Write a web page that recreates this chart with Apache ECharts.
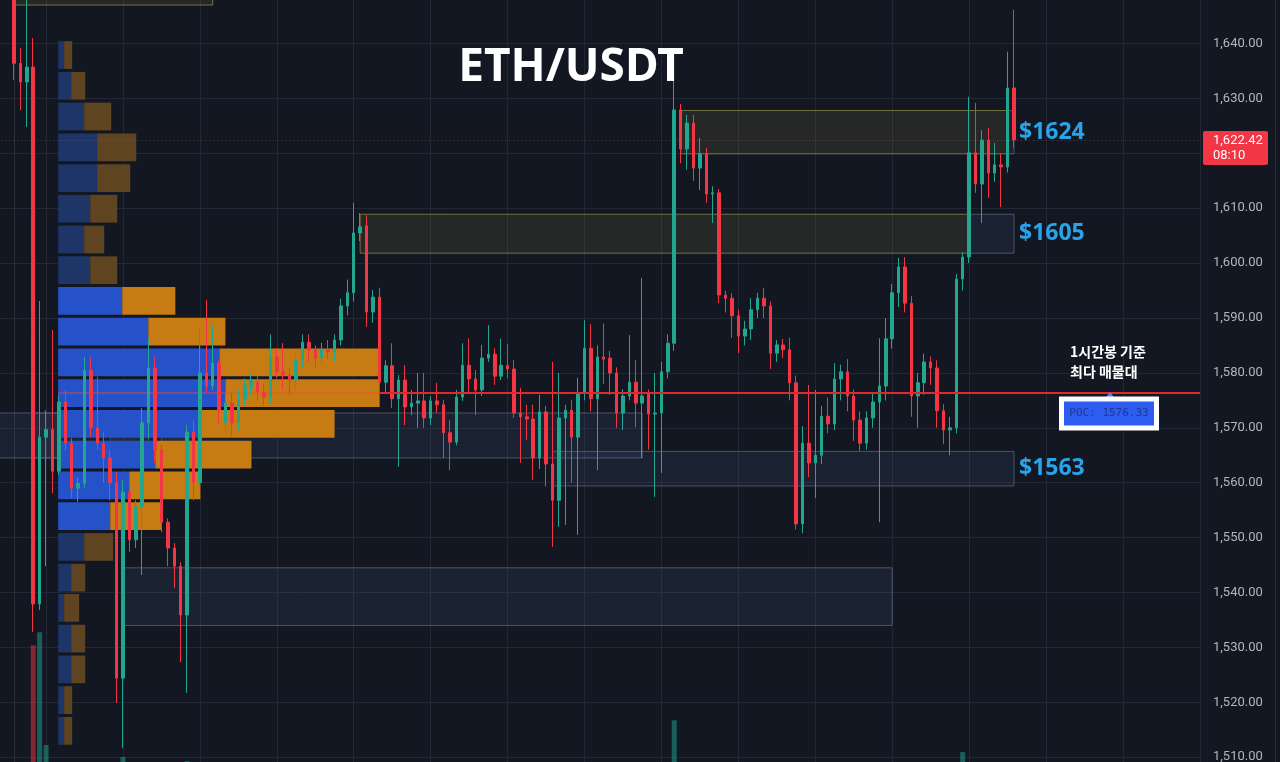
<!DOCTYPE html>
<html>
<head>
<meta charset="utf-8">
<title>ETH/USDT</title>
<script src="https://cdn.jsdelivr.net/npm/echarts/dist/echarts.min.js"></script>
<style>
  html, body { margin: 0; padding: 0; background: #131722; }
  #chart { width: 1280px; height: 762px; }
</style>
</head>
<body>
<div id="chart"></div>
<script>
// 1h candles (index = candle number from the left edge)
const opens = [
  1650.0, 1636.4, 1633.0, 1635.7, 1537.9, 1568.3, 1569.7, 1562.1, 1574.7, 1567.2,
  1559.0, 1559.9, 1580.5, 1570.0, 1567.2, 1564.5, 1560.0, 1524.4, 1558.3, 1549.6,
  1555.6, 1570.9, 1580.9, 1566.0, 1552.8, 1548.1, 1544.8, 1535.9, 1569.2, 1560.0,
  1580.0, 1577.6, 1581.8, 1570.9, 1574.5, 1570.9, 1575.1, 1577.4, 1578.3, 1576.5,
  1575.6, 1582.9, 1580.2, 1579.6, 1578.7, 1582.3, 1585.6, 1584.2, 1582.7, 1584.2,
  1583.8, 1586.0, 1592.2, 1594.6, 1605.5, 1606.8, 1591.1, 1593.8, 1578.3, 1581.3,
  1575.3, 1578.7, 1573.8, 1574.5, 1574.9, 1571.8, 1574.9, 1574.2, 1569.1, 1567.4,
  1575.6, 1581.4, 1578.9, 1576.9, 1582.7, 1583.4, 1579.4, 1581.3, 1580.7, 1572.7,
  1572.0, 1571.6, 1564.5, 1572.9, 1563.4, 1556.8, 1571.8, 1573.2, 1568.3, 1576.3,
  1584.5, 1575.3, 1582.9, 1582.7, 1580.0, 1572.7, 1575.8, 1578.3, 1574.5, 1576.3,
  1572.5, 1572.7, 1580.2, 1585.4, 1627.9, 1620.8, 1625.5, 1617.3, 1619.9, 1612.6,
  1612.8, 1594.2, 1593.6, 1590.4, 1586.7, 1588.0, 1591.5, 1593.6, 1592.2, 1583.6,
  1585.1, 1584.2, 1578.2, 1552.5, 1567.2, 1563.6, 1565.0, 1572.1, 1570.7, 1578.9,
  1580.2, 1575.8, 1571.4, 1567.2, 1571.8, 1574.7, 1577.6, 1586.2, 1594.6, 1599.3,
  1592.7, 1575.8, 1578.2, 1582.0, 1580.9, 1573.1, 1569.6, 1570.0, 1597.1, 1601.1,
  1620.1, 1614.4, 1622.4, 1616.4, 1617.9, 1617.5, 1631.9
];
const closes = [
  1636.4, 1633.0, 1635.7, 1537.9, 1568.3, 1569.7, 1562.1, 1574.7, 1567.2, 1559.0,
  1559.9, 1580.5, 1570.0, 1567.2, 1564.5, 1560.0, 1524.4, 1558.3, 1549.6, 1555.6,
  1570.9, 1580.9, 1566.0, 1552.8, 1548.1, 1544.8, 1535.9, 1569.2, 1560.0, 1580.0,
  1577.6, 1581.8, 1573.2, 1574.5, 1570.9, 1575.1, 1577.8, 1578.7, 1576.5, 1575.6,
  1582.9, 1580.2, 1579.6, 1578.7, 1582.3, 1585.6, 1584.2, 1582.7, 1584.2, 1583.8,
  1586.0, 1592.2, 1594.6, 1605.5, 1606.6, 1591.1, 1593.8, 1578.3, 1581.3, 1575.3,
  1578.7, 1573.8, 1574.5, 1574.9, 1571.8, 1574.9, 1574.2, 1569.1, 1567.4, 1575.6,
  1581.4, 1578.9, 1576.9, 1582.7, 1583.4, 1579.4, 1581.4, 1580.7, 1572.7, 1572.0,
  1571.6, 1564.5, 1572.9, 1563.4, 1556.8, 1571.8, 1573.2, 1568.3, 1576.3, 1584.5,
  1575.3, 1582.9, 1582.5, 1580.0, 1572.7, 1575.8, 1578.3, 1574.5, 1575.8, 1572.5,
  1572.7, 1580.2, 1585.4, 1627.9, 1620.8, 1625.5, 1617.3, 1619.9, 1612.6, 1612.8,
  1594.2, 1593.6, 1590.4, 1586.7, 1588.0, 1591.5, 1593.6, 1592.2, 1583.6, 1585.1,
  1584.2, 1578.2, 1552.5, 1567.2, 1563.6, 1565.0, 1572.1, 1570.7, 1578.9, 1580.2,
  1575.8, 1571.4, 1567.2, 1571.8, 1574.7, 1577.6, 1586.2, 1594.6, 1599.3, 1592.7,
  1575.8, 1578.2, 1582.0, 1580.9, 1573.1, 1569.6, 1570.0, 1597.1, 1601.1, 1620.1,
  1614.4, 1622.4, 1616.4, 1617.9, 1617.5, 1631.9, 1622.42
];
const lows = [
  1633.4, 1627.9, 1624.8, 1532.8, 1536.8, 1544.8, 1558.1, 1561.4, 1565.9, 1557.2,
  1556.5, 1559.0, 1568.3, 1566.0, 1560.0, 1556.8, 1519.9, 1511.7, 1547.4, 1548.1,
  1543.2, 1568.0, 1563.6, 1551.0, 1544.8, 1540.8, 1527.3, 1521.7, 1556.8, 1558.7,
  1576.5, 1576.9, 1570.9, 1569.0, 1568.5, 1569.5, 1574.0, 1576.0, 1575.0, 1574.0,
  1574.5, 1579.0, 1577.0, 1576.0, 1577.0, 1581.0, 1582.0, 1581.0, 1581.5, 1582.5,
  1582.0, 1585.0, 1590.5, 1593.0, 1604.0, 1588.4, 1589.1, 1577.8, 1576.3, 1573.6,
  1562.9, 1570.5, 1572.3, 1570.0, 1570.0, 1570.5, 1572.7, 1564.5, 1562.3, 1566.8,
  1574.9, 1576.5, 1572.3, 1575.8, 1582.0, 1577.8, 1578.7, 1579.0, 1571.8, 1563.6,
  1567.8, 1560.5, 1562.5, 1559.3, 1548.3, 1552.0, 1552.3, 1560.0, 1550.5, 1575.0,
  1573.0, 1562.3, 1578.0, 1576.0, 1570.0, 1569.6, 1575.0, 1570.1, 1564.5, 1566.0,
  1557.4, 1561.8, 1579.0, 1584.0, 1618.2, 1617.0, 1615.0, 1613.3, 1611.0, 1607.3,
  1592.7, 1591.0, 1586.4, 1583.6, 1585.0, 1586.0, 1590.0, 1590.0, 1580.7, 1582.0,
  1582.7, 1575.0, 1551.5, 1550.8, 1561.0, 1557.2, 1563.4, 1569.0, 1569.6, 1575.0,
  1573.0, 1567.6, 1565.8, 1566.0, 1570.0, 1552.8, 1575.0, 1584.4, 1592.0, 1591.0,
  1572.0, 1570.0, 1576.0, 1577.8, 1570.0, 1567.0, 1565.0, 1569.0, 1595.0, 1600.0,
  1612.8, 1607.3, 1611.9, 1614.8, 1610.2, 1616.5, 1621.0
];
const highs = [
  1652.0, 1639.2, 1648.0, 1641.0, 1593.1, 1573.2, 1587.8, 1576.0, 1576.9, 1568.0,
  1561.0, 1582.9, 1582.9, 1579.3, 1569.2, 1566.0, 1562.0, 1560.5, 1560.0, 1556.8,
  1573.6, 1586.3, 1583.0, 1567.0, 1553.5, 1549.0, 1545.5, 1570.5, 1571.4, 1588.4,
  1593.3, 1588.7, 1582.3, 1576.0, 1576.5, 1577.0, 1579.0, 1580.0, 1579.5, 1578.0,
  1587.0, 1584.5, 1585.4, 1581.0, 1583.5, 1587.0, 1587.0, 1585.0, 1585.5, 1586.0,
  1587.0, 1593.5, 1597.0, 1611.0, 1609.1, 1608.7, 1595.1, 1595.5, 1582.3, 1585.4,
  1579.6, 1581.4, 1576.9, 1580.0, 1580.0, 1575.8, 1578.2, 1575.1, 1571.4, 1576.9,
  1585.4, 1586.3, 1580.5, 1585.1, 1588.7, 1584.5, 1586.2, 1585.3, 1582.3, 1577.3,
  1574.2, 1574.2, 1576.0, 1574.0, 1582.0, 1580.0, 1574.2, 1575.1, 1579.1, 1589.6,
  1588.9, 1585.0, 1589.0, 1584.0, 1581.0, 1577.0, 1586.9, 1582.3, 1597.3, 1577.0,
  1580.0, 1582.0, 1587.0, 1634.0, 1629.0, 1627.0, 1627.0, 1622.8, 1621.0, 1614.0,
  1613.5, 1595.0, 1594.5, 1591.5, 1589.5, 1593.6, 1594.6, 1595.5, 1593.0, 1586.0,
  1586.2, 1586.4, 1579.5, 1570.3, 1577.8, 1576.9, 1574.0, 1575.5, 1581.8, 1581.5,
  1582.5, 1577.0, 1573.0, 1573.0, 1576.5, 1586.3, 1590.0, 1596.2, 1601.0, 1601.1,
  1594.0, 1580.0, 1583.5, 1583.0, 1582.3, 1574.3, 1572.0, 1598.0, 1602.0, 1630.3,
  1629.2, 1624.2, 1624.6, 1621.9, 1620.0, 1638.5, 1646.1
];

// only the volume bars that reach into the visible window: [candle index, volume]
const volumes = [[3, 40.5], [4, 43.7], [5, 16.3], [17, 13.4], [27, 12.4], [103, 22.3], [148, 14.6]];

// visible-range volume profile (row mid price, up volume, down volume, inside value area)
const profilePrices = [
  1637.9, 1632.3, 1626.7, 1621.1, 1615.5, 1609.9, 1604.3, 1598.7, 1593.1, 1587.5, 1581.9, 1576.3,
  1570.7, 1565.1, 1559.5, 1553.9, 1548.3, 1542.7, 1537.2, 1531.6, 1526.0, 1520.4, 1514.8
];
const profileUp = [3, 6.5, 13, 19.5, 19.5, 16, 13, 16, 32, 45, 80.5, 83.5, 71, 48.5, 35.5, 26, 13, 6.5, 3, 6.5, 6.5, 3, 3];
const profileDown = [4, 7, 13.5, 19.5, 16.5, 13.5, 10, 13.5, 26.5, 38.5, 79.5, 77, 67, 48, 35.5, 25.5, 14.5, 7, 7.5, 7, 7, 4, 4];
const inValueArea = [0, 0, 0, 0, 0, 0, 0, 0, 1, 1, 1, 1, 1, 1, 1, 1, 0, 0, 0, 0, 0, 0, 0];
const profileRow = 5.6;
const poc = 1576.33;

// drawn zones: candle index range and price range
const zones = [
  { from: 0, to: 31, low: 1647.0, high: 1660.0, tone: 'olive' },
  { from: 104, to: 155, low: 1619.9, high: 1627.8, tone: 'olive' },
  { from: 155, to: 156, low: 1619.9, high: 1627.8, tone: 'blue' },
  { from: 54, to: 149, low: 1601.8, high: 1608.9, tone: 'olive' },
  { from: 149, to: 156, low: 1601.8, high: 1608.9, tone: 'blue' },
  { from: 84, to: 156, low: 1559.4, high: 1565.7, tone: 'blue' },
  { from: -8, to: 98, low: 1564.5, high: 1572.7, tone: 'blue' },
  { from: 3, to: 9, low: 1564.5, high: 1572.7, tone: 'faint' },
  { from: 15, to: 21, low: 1564.5, high: 1572.7, tone: 'faint' },
  { from: 23, to: 29, low: 1564.5, high: 1572.7, tone: 'faint' },
  { from: 17, to: 137, low: 1534.0, high: 1544.5, tone: 'blue' },
];
const zoneLabels = [
  { text: '$1624', price: 1623.85 },
  { text: '$1605', price: 1605.35 },
  { text: '$1563', price: 1562.55 },
];
const pocLineFrom = 57;
const lastCandle = 156;

const UP = '#22a68f';
const DOWN = '#f23645';
const BG = '#131722';
const GRID = '#232733';

const zoneStyle = {
  olive: { fill: 'rgba(140,140,70,0.15)', stroke: 'rgba(170,165,80,0.6)' },
  blue: { fill: 'rgba(80,110,160,0.13)', stroke: 'rgba(130,150,185,0.45)' },
  faint: { fill: 'rgba(140,160,210,0.07)', stroke: 'rgba(150,170,200,0.3)' },
};

const candleData = opens.map((o, i) => [i, o, closes[i], lows[i], highs[i]]);
const profileData = profilePrices.map((p, i) => [p, profileUp[i], profileDown[i], inValueArea[i]]);
const pocRowTotal = Math.max(...profileUp.map((u, i) => u + profileDown[i]));

function priceLabel(v) {
  const whole = Math.floor(v);
  const frac = (v - whole).toFixed(2).slice(1);
  return `${Math.floor(whole / 1000)},${String(whole % 1000).padStart(3, '0')}${frac}`;
}

const chart = echarts.init(document.getElementById('chart'), null, { renderer: 'canvas' });

const option = {
  backgroundColor: BG,
  animation: false,
  grid: {
    left: -30.87, right: 80, top: -11.4, bottom: -50.1,
    outerBoundsMode: 'none', containLabel: false,
  },
  xAxis: [
    {
      type: 'value', min: -7, max: 185.02, interval: 12,
      axisLine: { show: false }, axisTick: { show: false }, axisLabel: { show: false },
      splitLine: { show: true, lineStyle: { color: GRID, width: 1 } },
    },
    {
      // volume profile scale
      type: 'value', min: -44.435, max: 570.0, show: false,
      splitLine: { show: false },
    },
  ],
  yAxis: [
    {
      type: 'value', position: 'right', min: 1500, max: 1650, interval: 10,
      axisLine: { show: true, lineStyle: { color: '#2a2e39' } },
      axisTick: { show: false },
      splitLine: { show: true, lineStyle: { color: GRID, width: 1 } },
      axisLabel: {
        color: '#b2b5be', fontSize: 13, fontFamily: 'Roboto', margin: 13,
        formatter: priceLabel,
      },
    },
    { type: 'value', min: 0, max: 200, show: false, splitLine: { show: false } },
  ],
  series: [
    {
      name: 'zones',
      type: 'custom',
      xAxisIndex: 0, yAxisIndex: 0, z: 1,
      encode: { x: [0, 1], y: [2, 3] },
      data: zones.map((zn) => [zn.from, zn.to, zn.low, zn.high]),
      renderItem(params, api) {
        const zn = zones[params.dataIndex];
        const p0 = api.coord([zn.from, zn.high]);
        const p1 = api.coord([zn.to, zn.low]);
        const st = zoneStyle[zn.tone];
        return {
          type: 'rect',
          shape: { x: p0[0], y: p0[1], width: p1[0] - p0[0], height: p1[1] - p0[1] },
          style: { fill: st.fill, stroke: st.stroke, lineWidth: 1 },
        };
      },
    },
    {
      name: 'profile',
      type: 'custom',
      xAxisIndex: 1, yAxisIndex: 0, z: 2,
      encode: { x: [1, 2], y: 0 },
      data: profileData,
      renderItem(params, api) {
        const price = api.value(0);
        const up = api.value(1);
        const down = api.value(2);
        const bright = api.value(3) === 1;
        const top = api.coord([0, price + profileRow / 2]);
        const bot = api.coord([0, price - profileRow / 2]);
        const xUp = api.coord([up, price])[0];
        const xAll = api.coord([up + down, price])[0];
        const y = top[1] + 1.5;
        const h = bot[1] - top[1] - 3;
        return {
          type: 'group',
          children: [
            {
              type: 'rect',
              shape: { x: top[0], y, width: xUp - top[0], height: h },
              style: { fill: bright ? '#2552c8' : '#1e3568' },
            },
            {
              type: 'rect',
              shape: { x: xUp, y, width: xAll - xUp, height: h },
              style: { fill: bright ? '#c67c12' : '#5e4421' },
            },
          ],
        };
      },
    },
    {
      name: 'profile poc',
      type: 'line',
      xAxisIndex: 1, yAxisIndex: 0, z: 3,
      symbol: 'none', silent: true,
      data: [[0, poc], [pocRowTotal, poc]],
      lineStyle: { color: 'rgba(255,70,60,0.55)', width: 1.5 },
    },
    {
      name: 'volume',
      type: 'bar',
      xAxisIndex: 0, yAxisIndex: 1, z: 3,
      barWidth: 5,
      data: volumes.map(([i, v]) => ({
        value: [i, v],
        itemStyle: { color: closes[i] >= opens[i] ? 'rgba(34,166,143,0.5)' : 'rgba(242,54,69,0.5)' },
      })),
    },
    {
      name: 'ETHUSDT',
      type: 'candlestick',
      xAxisIndex: 0, yAxisIndex: 0, z: 5,
      barWidth: 3,
      encode: { x: 0, y: [1, 2, 3, 4] },
      data: candleData,
      itemStyle: { color: UP, color0: DOWN, borderColor: UP, borderColor0: DOWN, borderWidth: 1 },
      markLine: {
        silent: true, symbol: 'none',
        label: { show: false },
        lineStyle: { color: 'rgba(242,54,69,0.55)', type: [1, 3], width: 1 },
        data: [{ yAxis: closes[lastCandle] }],
      },
    },
    {
      name: 'poc line',
      type: 'line',
      xAxisIndex: 0, yAxisIndex: 0, z: 6,
      symbol: 'none', silent: true,
      data: [[pocLineFrom, poc], [185.02, poc]],
      lineStyle: { color: '#e0282e', width: 2 },
    },
  ],
};

chart.setOption(option);

const yOf = (p) => chart.convertToPixel({ yAxisIndex: 0 }, p);
const xOf = (i) => chart.convertToPixel({ xAxisIndex: 0 }, i);
const yPoc = yOf(poc);
const yLast = yOf(closes[lastCandle]);
const labelX = xOf(lastCandle) + 5;

const graphics = [
  {
    type: 'text', z: 20,
    style: {
      x: 571, y: 68, text: 'ETH/USDT', fill: '#ffffff',
      font: 'bold 46px "Noto Sans"', textAlign: 'center', textVerticalAlign: 'middle',
    },
  },
  ...zoneLabels.map((lb) => ({
    type: 'text', z: 20,
    style: {
      x: labelX, y: yOf(lb.price), text: lb.text, fill: '#29a3ea',
      font: 'bold 23px "Noto Sans"', textAlign: 'left', textVerticalAlign: 'middle',
    },
  })),
  {
    type: 'text', z: 20,
    style: {
      x: 1070, y: yPoc - 41, text: '1시간봉 기준', fill: '#ffffff',
      font: 'bold 14px "Noto Sans CJK KR"', textAlign: 'left', textVerticalAlign: 'middle',
    },
  },
  {
    type: 'text', z: 20,
    style: {
      x: 1070, y: yPoc - 21, text: '최다 매물대', fill: '#ffffff',
      font: 'bold 14px "Noto Sans CJK KR"', textAlign: 'left', textVerticalAlign: 'middle',
    },
  },
  {
    type: 'polygon', z: 20,
    shape: { points: [[1106, yPoc + 4], [1114, yPoc + 4], [1110, yPoc - 1]] },
    style: { fill: '#5b7cf0' },
  },
  {
    type: 'rect', z: 20,
    shape: { x: 1059, y: yPoc + 3.5, width: 100, height: 34 },
    style: { fill: '#ffffff' },
  },
  {
    type: 'rect', z: 21,
    shape: { x: 1064, y: yPoc + 8.5, width: 90, height: 24 },
    style: { fill: '#2d5cf0' },
  },
  {
    type: 'text', z: 22,
    style: {
      x: 1109, y: yPoc + 20.5, text: `POC: ${poc.toFixed(2)}`, fill: '#23388e',
      font: '11px "DejaVu Sans Mono"', textAlign: 'center', textVerticalAlign: 'middle',
    },
  },
  {
    type: 'rect', z: 20,
    shape: { x: 1203, y: yLast - 9, width: 65, height: 34, r: 2 },
    style: { fill: '#f23645' },
  },
  {
    type: 'text', z: 21,
    style: {
      x: 1213, y: yLast + 1, text: priceLabel(closes[lastCandle]), fill: '#ffffff',
      font: '13px Roboto', textAlign: 'left', textVerticalAlign: 'middle',
    },
  },
  {
    type: 'text', z: 21,
    style: {
      x: 1213, y: yLast + 16, text: '08:10', fill: '#ffffff',
      font: '13px Roboto', textAlign: 'left', textVerticalAlign: 'middle',
    },
  },
  {
    type: 'line', z: 20,
    shape: { x1: 1275.5, y1: 0, x2: 1275.5, y2: 762 },
    style: { stroke: '#2a2e39', lineWidth: 1 },
  },
];

chart.setOption({ graphic: graphics });
</script>
</body>
</html>
